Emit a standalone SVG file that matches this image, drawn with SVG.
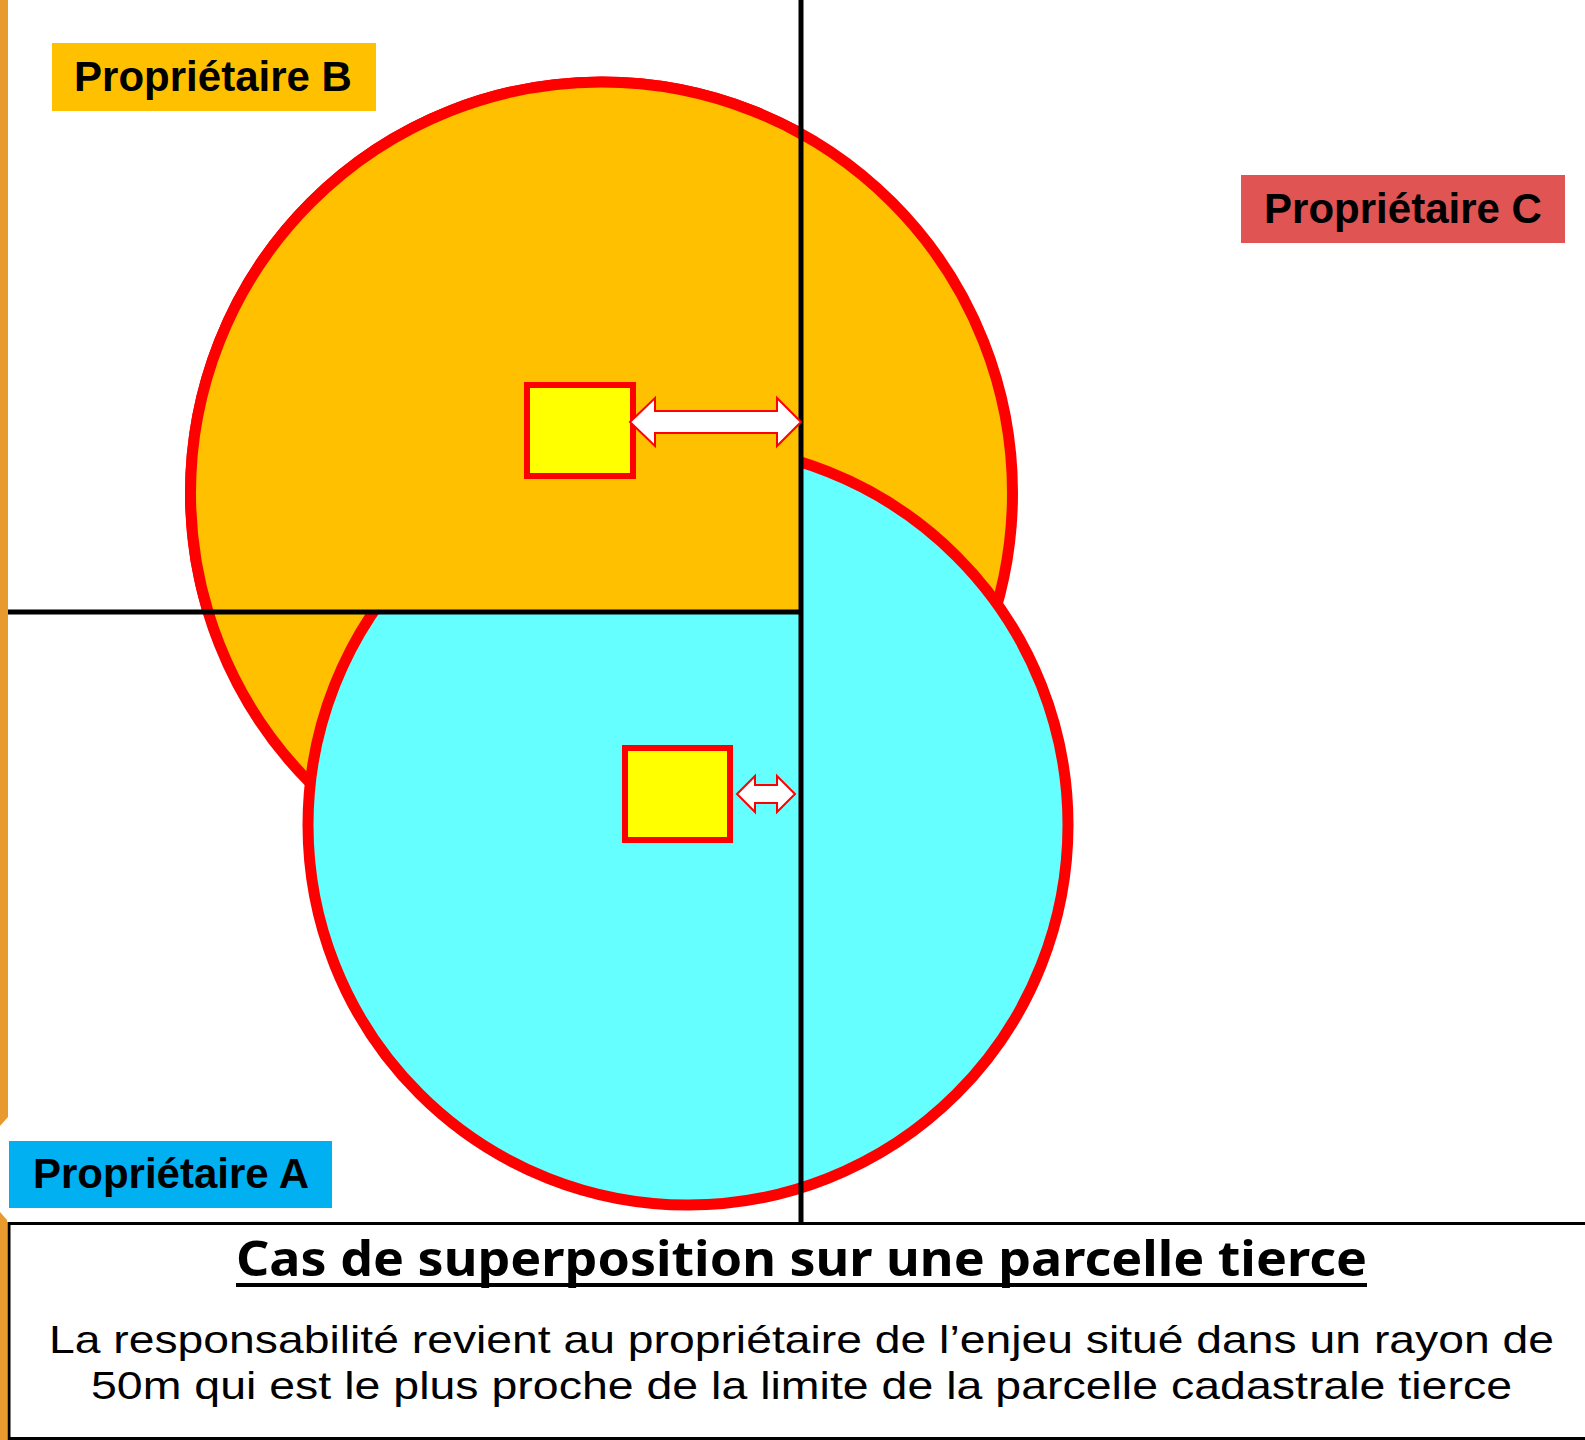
<svg xmlns="http://www.w3.org/2000/svg" width="1585" height="1440" viewBox="0 0 1585 1440">
  <style>
    .label { font-family: "Liberation Sans", Arial, sans-serif; font-weight: bold; font-size: 42px; fill: #000; text-anchor: middle; }
    .title { font-family: "Noto Sans", "DejaVu Sans", sans-serif; font-weight: bold; font-size: 48px; fill: #000; text-anchor: middle; }
    .body { font-family: "Liberation Sans", Arial, sans-serif; font-size: 39px; fill: #000; text-anchor: middle; }
    .enjeu { fill: #FFFF00; stroke: #FF0000; stroke-width: 6; }
    .arrow { fill: #FFFFFF; stroke: #FF0000; stroke-width: 2; stroke-linejoin: miter; }
    .limit { stroke: #000; stroke-width: 5; fill: none; }
  </style>
  <defs>
    <clipPath id="quadB">
      <rect x="0" y="0" width="801" height="612"/>
    </clipPath>
  </defs>
  <rect x="0" y="0" width="1585" height="1440" fill="#FFFFFF"/>
  <g id="frame-edge">
    <polygon points="0,0 8,0 8,1117 0,1126" fill="#E89A2E"/>
    <polygon points="0,1212 7,1220 7,1440 0,1440" fill="#E89A2E"/>
  </g>
  <g id="zone-B">
    <circle cx="601.5" cy="493" r="411" fill="#FFC000" stroke="#FF0000" stroke-width="11"/>
  </g>
  <g id="zone-A">
    <circle cx="688" cy="825" r="380" fill="#66FFFF" stroke="#FF0000" stroke-width="11"/>
  </g>
  <g id="parcelle-B-overlay" clip-path="url(#quadB)">
    <circle cx="601.5" cy="493" r="411" fill="#FFC000" stroke="#FF0000" stroke-width="11"/>
  </g>
  <g id="limites">
    <line class="limit" x1="801" y1="0" x2="801" y2="1223"/>
    <line class="limit" x1="8" y1="612" x2="801" y2="612"/>
  </g>
  <g id="enjeu-B">
    <rect class="enjeu" x="527" y="385" width="106" height="91"/>
  </g>
  <g id="enjeu-A">
    <rect class="enjeu" x="625" y="748" width="105" height="92"/>
  </g>
  <g id="connectors">
    <polygon class="arrow" points="630,422 655,398 655,411 777,411 777,398 801,422 777,446 777,433 655,433 655,446"/>
    <polygon class="arrow" points="737,794 755,776 755,785 777,785 777,776 795,794 777,812 777,803 755,803 755,812"/>
  </g>
  <g id="label-B">
    <rect x="52" y="43" width="324" height="68" fill="#FFC000"/>
    <text class="label" x="213" y="91">Propriétaire B</text>
  </g>
  <g id="label-C">
    <rect x="1241" y="175" width="324" height="68" fill="#E05454"/>
    <text class="label" x="1403" y="223">Propriétaire C</text>
  </g>
  <g id="label-A">
    <rect x="9" y="1141" width="323" height="67" fill="#00B0F0"/>
    <text class="label" x="171" y="1188">Propriétaire A</text>
  </g>
  <g id="legend">
    <rect x="9" y="1223.5" width="1600" height="215" fill="#FFFFFF" stroke="#000" stroke-width="3"/>
    <text class="title" x="801.5" y="1276" textLength="1131" lengthAdjust="spacingAndGlyphs">Cas de superposition sur une parcelle tierce</text>
    <rect x="236" y="1283" width="1131" height="4" fill="#000"/>
    <text class="body" x="801.5" y="1353" textLength="1505" lengthAdjust="spacingAndGlyphs">La responsabilité revient au propriétaire de l’enjeu situé dans un rayon de</text>
    <text class="body" x="801.5" y="1399" textLength="1421" lengthAdjust="spacingAndGlyphs">50m qui est le plus proche de la limite de la parcelle cadastrale tierce</text>
  </g>
</svg>
